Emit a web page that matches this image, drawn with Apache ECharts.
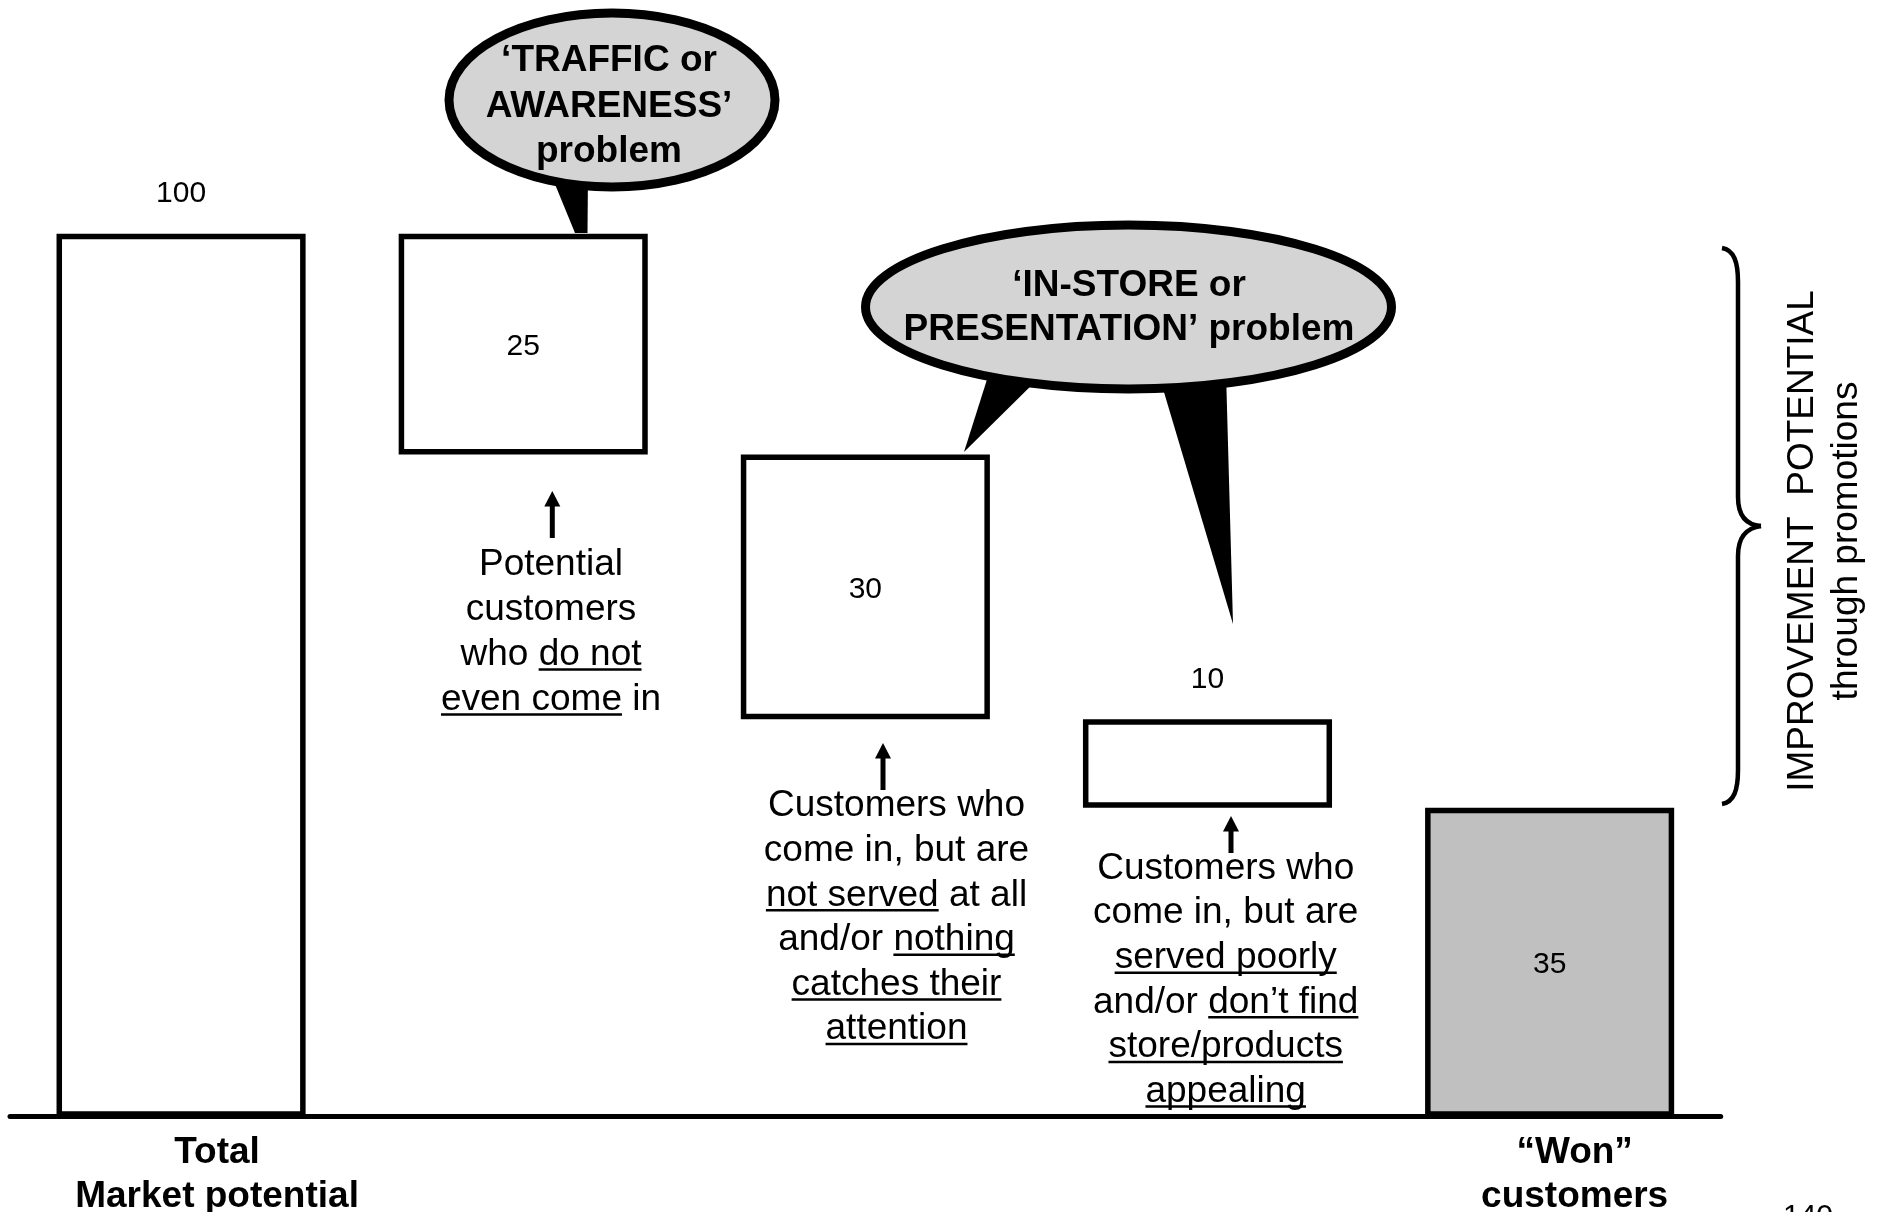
<!DOCTYPE html>
<html><head><meta charset="utf-8">
<script src="https://cdn.jsdelivr.net/npm/echarts@6/dist/echarts.min.js"></script>
<style>html,body{margin:0;padding:0;background:#fff}#c{width:1877px;height:1212px}</style>
</head><body><div id="c"></div>
<script>
// ---------- data ----------
const categories = ['Total Market potential', 'Do not even come in', 'Not served / nothing catches attention', 'Served poorly / not appealing', '“Won” customers'];
const axisLabels = ['Total\nMarket potential', '', '', '', '“Won”\ncustomers'];
const values = [100, 25, 30, 10, 35];
const barKinds = ['total', 'loss', 'loss', 'loss', 'result'];
const valueLabelPos = ['top', 'inside', 'inside', 'top', 'inside'];
const bubble1Lines = ['‘TRAFFIC or', 'AWARENESS’', 'problem'];
const bubble2Lines = ['‘IN-STORE or', 'PRESENTATION’ problem'];
const note1 = [[['Potential', 0]], [['customers', 0]], [['who ', 0], ['do not', 1]], [['even come', 1], [' in', 0]]];
const note2 = [[['Customers who', 0]], [['come in, but are', 0]], [['not served', 1], [' at all', 0]], [['and/or ', 0], ['nothing', 1]], [['catches their', 1]], [['attention', 1]]];
const note3 = [[['Customers who', 0]], [['come in, but are', 0]], [['served poorly', 1]], [['and/or ', 0], ['don’t find', 1]], [['store/products', 1]], [['appealing', 1]]];
const sideLines = ['IMPROVEMENT  POTENTIAL', 'through promotions'];
const pageNumber = '140';

// waterfall offsets derived from the values
const bases = values.map((v, i) => {
  if (barKinds[i] !== 'loss') return 0;
  let rem = values[0];
  for (let j = 1; j <= i; j++) rem -= values[j];
  return rem;
});

const FF = '"Liberation Sans", Arial, Helvetica, sans-serif';
const FS = 37;
const FONT = FS + 'px ' + FF;
const BFONT = 'bold ' + FS + 'px ' + FF;

const chart = echarts.init(document.getElementById('c'), null, {renderer: 'canvas'});

chart.setOption({
  animation: false,
  backgroundColor: '#fff',
  grid: {left: 10, right: 156.3, top: 233.7, bottom: 95.3, containLabel: false, outerBoundsMode: 'none'},
  xAxis: {
    type: 'category',
    data: categories,
    axisTick: {show: false},
    axisLine: {lineStyle: {color: '#000', width: 5}},
    axisLabel: {
      interval: 0,
      margin: 13.5,
      formatter: function (v, i) {
        const t = axisLabels[i];
        if (!t) return '';
        const k = i === 0 ? 'L' : 'R';
        return t.split('\n').map(s => '{' + k + '|' + s + '}').join('\n');
      },
      rich: {
        L: {fontSize: FS, fontWeight: 'bold', fontFamily: FF, color: '#000', lineHeight: 44.5, padding: [0, 0, 0, 72]},
        R: {fontSize: FS, fontWeight: 'bold', fontFamily: FF, color: '#000', lineHeight: 44.5, padding: [0, 0, 0, 50]}
      }
    }
  },
  yAxis: {type: 'value', min: 0, max: 100, show: false, splitLine: {show: false}},
  series: [
    {
      type: 'bar', stack: 'w', silent: true, barWidth: '72.8%',
      itemStyle: {color: 'rgba(0,0,0,0)', borderWidth: 0},
      data: bases
    },
    {
      type: 'bar', stack: 'w', barWidth: '72.8%',
      itemStyle: {color: '#ffffff', borderColor: '#000', borderWidth: 5.5},
      label: {show: true, fontSize: 30, fontFamily: FF, color: '#000', distance: 28, offset: [0, 3]},
      data: values.map((v, i) => ({
        value: v,
        itemStyle: {color: barKinds[i] === 'result' ? '#c0c0c0' : '#ffffff'},
        label: {position: valueLabelPos[i]}
      }))
    }
  ]
});

// ---------- annotations ----------
const mctx = document.createElement('canvas').getContext('2d');
function tw(str, font) { mctx.font = font; return mctx.measureText(str).width; }
function txt(x, y, text, font, align, extra) {
  return Object.assign({
    type: 'text', x: x, y: y, z: 10,
    style: {text: text, font: font, fill: '#000', align: align || 'center', verticalAlign: 'middle', textAlign: align || 'center', textVerticalAlign: 'middle'}
  }, extra || {});
}
function baselineToMid(b, fs) { return b - 0.3465 * fs; }

function block(lines, cx, y0, dy) {
  const els = [];
  lines.forEach((segs, li) => {
    const base = y0 + li * dy;
    const widths = segs.map(s => tw(s[0], FONT));
    const W = widths.reduce((a, b) => a + b, 0);
    let x = cx - W / 2;
    segs.forEach((s, si) => {
      els.push(txt(x, baselineToMid(base, FS), s[0], FONT, 'left'));
      if (s[1]) {
        const lead = s[0].length - s[0].replace(/^\s+/, '').length;
        const x0 = x + (lead ? tw(s[0].slice(0, lead), FONT) : 0);
        const x1 = x + tw(s[0].replace(/\s+$/, ''), FONT);
        els.push({type: 'line', z: 10, shape: {x1: x0, y1: base + 2, x2: x1, y2: base + 2}, style: {stroke: '#000', lineWidth: 2.5}});
      }
      x += widths[si];
    });
  });
  return els;
}
function arrow(x, tip, bottom) {
  return [
    {type: 'line', z: 10, shape: {x1: x, y1: tip + 14, x2: x, y2: bottom}, style: {stroke: '#000', lineWidth: 5}},
    {type: 'polygon', z: 10, shape: {points: [[x, tip], [x - 8, tip + 15.5], [x + 8, tip + 15.5]]}, style: {fill: '#000'}}
  ];
}

const g = [];
// bubble 1
g.push({type: 'polygon', z: 5, shape: {points: [[550, 172], [588, 172], [587.5, 233], [575, 233]]}, style: {fill: '#000'}});
g.push({type: 'ellipse', z: 6, shape: {cx: 612, cy: 100, rx: 163, ry: 87}, style: {fill: '#d4d4d4', stroke: '#000', lineWidth: 9}});
bubble1Lines.forEach((s, i) => g.push(txt(609, baselineToMid(74 + i * 45.5, FS), s, BFONT)));
// bubble 2
g.push({type: 'polygon', z: 5, shape: {points: [[990, 370], [1045, 372], [964, 452]]}, style: {fill: '#000'}});
g.push({type: 'polygon', z: 5, shape: {points: [[1158, 372], [1226, 372], [1233, 624]]}, style: {fill: '#000'}});
g.push({type: 'ellipse', z: 6, shape: {cx: 1128.5, cy: 307, rx: 263, ry: 82}, style: {fill: '#d4d4d4', stroke: '#000', lineWidth: 9}});
bubble2Lines.forEach((s, i) => g.push(txt(1129, baselineToMid(298.5 + i * 44.5, FS), s, BFONT)));
// arrows + notes
arrow(552.3, 491, 538).forEach(e => g.push(e));
arrow(883, 743, 790).forEach(e => g.push(e));
arrow(1231, 816, 853).forEach(e => g.push(e));
block(note1, 551, 577.5, 45).forEach(e => g.push(e));
block(note2, 896.5, 819, 44.6).forEach(e => g.push(e));
block(note3, 1225.7, 881.5, 44.6).forEach(e => g.push(e));
// brace
const bs = {stroke: '#000', lineWidth: 4.5, fill: 'none'};
g.push({type: 'bezierCurve', z: 10, shape: {x1: 1722, y1: 248, cpx1: 1734, cpy1: 250, cpx2: 1738, cpy2: 262, x2: 1738, y2: 282}, style: bs});
g.push({type: 'line', z: 10, shape: {x1: 1738, y1: 282, x2: 1738, y2: 497}, style: bs});
g.push({type: 'bezierCurve', z: 10, shape: {x1: 1738, y1: 497, cpx1: 1738, cpy1: 517, cpx2: 1747, cpy2: 525, x2: 1761, y2: 526}, style: bs});
g.push({type: 'bezierCurve', z: 10, shape: {x1: 1761, y1: 526, cpx1: 1747, cpy1: 528, cpx2: 1738, cpy2: 536, x2: 1738, y2: 556}, style: bs});
g.push({type: 'line', z: 10, shape: {x1: 1738, y1: 556, x2: 1738, y2: 770}, style: bs});
g.push({type: 'bezierCurve', z: 10, shape: {x1: 1738, y1: 770, cpx1: 1738, cpy1: 790, cpx2: 1734, cpy2: 802, x2: 1722, y2: 804}, style: bs});
// side text (rotated)
g.push(txt(1802.5, 541, sideLines[0], FONT, 'center', {rotation: Math.PI / 2}));
g.push(txt(1846.5, 541, sideLines[1], FONT, 'center', {rotation: Math.PI / 2}));
// page number (cut off at the bottom edge)
g.push(txt(1808, 1217, pageNumber, '30px ' + FF, 'center'));

chart.setOption({graphic: g});
</script>
</body></html>
